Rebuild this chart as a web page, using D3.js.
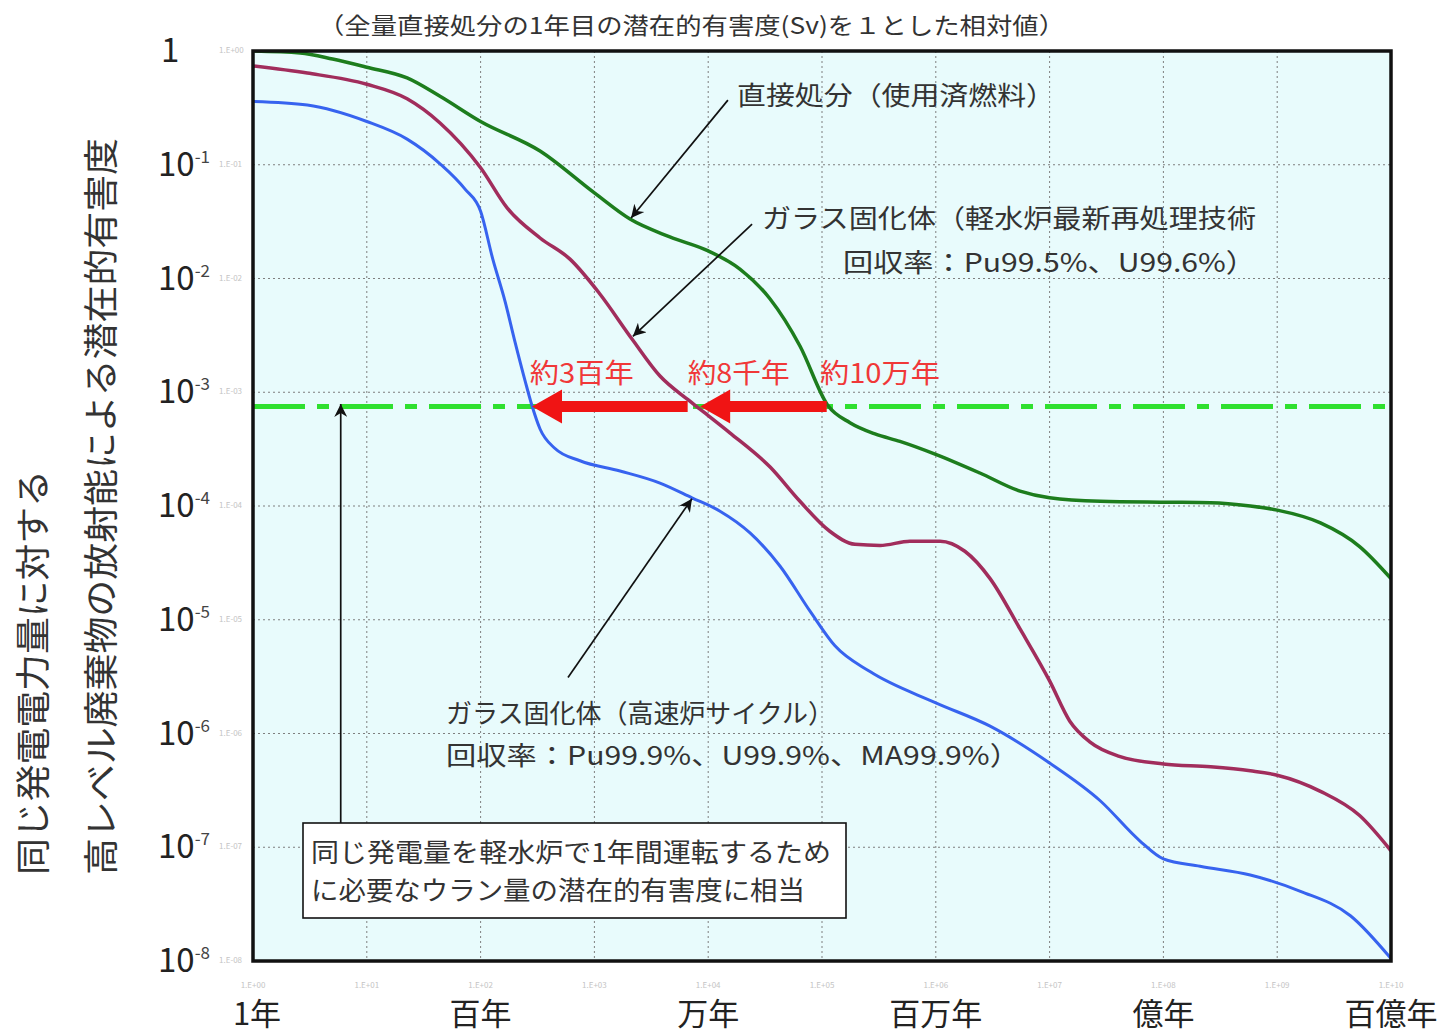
<!DOCTYPE html>
<html>
<head>
<meta charset="utf-8">
<script src="https://cdn.jsdelivr.net/npm/d3@7"></script>
<style>
  body { margin: 0; background: #ffffff; }
  svg { display: block; }
  text { font-family: "Noto Sans CJK JP", "Noto Sans", sans-serif; }
</style>
</head>
<body>
<svg id="chart" width="1444" height="1033"></svg>
<script>
// ---- data: relative potential hazard vs. elapsed years ----
// direct disposal (spent fuel)
const directYears  = [1, 2.6, 5, 10, 22.6, 44, 100, 333, 1000, 2055, 4600, 1e4, 1.9e4, 3.5e4, 6.4e4, 1.13e5, 1.76e5, 2.92e5, 4.84e5, 9.84e5, 2.44e6, 5.5e6, 1e7, 2.8e7, 1e8, 2.6e8, 5.8e8, 1e9, 2.4e9, 5.3e9, 1e10];
const directValues = [1.0, 0.96, 0.85, 0.72, 0.58, 0.40, 0.24, 0.132, 0.0565, 0.0333, 0.0232, 0.0175, 0.0121, 0.0066, 0.00255, 7.6e-4, 5.4e-4, 4.3e-4, 3.7e-4, 2.86e-4, 1.95e-4, 1.35e-4, 1.18e-4, 1.1e-4, 1.08e-4, 1.07e-4, 1.0e-4, 9.2e-5, 7.1e-5, 4.4e-5, 2.3e-5];

// vitrified waste, light-water reactor reprocessing
const lwrYears  = [1, 3, 10, 22.6, 44, 100, 171, 333, 610, 1100, 2140, 3770, 6640, 8470, 1.55e4, 3.5e4, 6.4e4, 1.17e5, 1.95e5, 3.24e5, 5.93e5, 1.09e6, 1.8e6, 3e6, 5.5e6, 1e7, 1.5e7, 2.27e7, 4.1e7, 1e8, 2.6e8, 5.8e8, 1e9, 2.4e9, 5.3e9, 1e10];
const lwrValues = [0.74, 0.64, 0.51, 0.38, 0.233, 0.094, 0.0417, 0.0227, 0.0148, 0.00746, 0.00294, 0.00139, 8.6e-4, 7.1e-4, 4.4e-4, 2.2e-4, 1.1e-4, 6.0e-5, 4.6e-5, 4.5e-5, 4.9e-5, 4.9e-5, 4.0e-5, 2.3e-5, 8.3e-6, 2.9e-6, 1.29e-6, 8.4e-7, 6.3e-7, 5.4e-7, 5.1e-7, 4.7e-7, 4.3e-7, 3.1e-7, 1.9e-7, 9.3e-8];

// vitrified waste, fast reactor cycle
const fbrYears  = [1, 3, 10, 22.6, 44, 73, 100, 128, 164, 200, 246, 283, 333, 451, 747, 1680, 3770, 7200, 1.27e4, 2.33e4, 4.27e4, 7.85e4, 1.3e5, 2.64e5, 1e6, 3e6, 1e7, 2.8e7, 6.2e7, 1e8, 2.1e8, 5.8e8, 1.6e9, 4.4e9, 1e10];
const fbrValues = [0.36, 0.335, 0.24, 0.168, 0.102, 0.061, 0.039, 0.0148, 0.0063, 0.0028, 0.00126, 7.6e-4, 4.75e-4, 3.2e-4, 2.5e-4, 2.03e-4, 1.59e-4, 1.18e-4, 9.0e-5, 5.8e-5, 2.97e-5, 1.19e-5, 5.9e-6, 3.5e-6, 1.86e-6, 1.16e-6, 5.5e-7, 2.55e-7, 1.14e-7, 7.9e-8, 6.8e-8, 5.7e-8, 4.1e-8, 2.5e-8, 1.05e-8];

// natural uranium reference level (1 year of LWR operation)
const uraniumLevel = 7.5e-4;

// reduction arrows [from year, to year] and their labels
const arrowSpans  = [[1.1e5, 8.5e3], [6.6e3, 2.83e2]];
const arrowLabelYears = [2.7e2, 6.6e3, 9.6e4];
const arrowLabels = ["約3百年", "約8千年", "約10万年"];
const arrowLabelWidths = [104, 102, 120];

// axis ticks
const xTickExps   = [0, 1, 2, 3, 4, 5, 6, 7, 8, 9, 10];
const xMajorExps  = [0, 2, 4, 6, 8, 10];
const xMajorNames = ["1年", "百年", "万年", "百万年", "億年", "百億年"];
const yTickExps   = [0, -1, -2, -3, -4, -5, -6, -7, -8];

// ---- layout ----
const svg = d3.select("#chart");
const plotLeft = 253, plotRight = 1391, plotTop = 51, plotBottom = 961;

const x = d3.scaleLog().domain([1, 1e10]).range([plotLeft, plotRight]);
const y = d3.scaleLog().domain([1e-8, 1]).range([plotBottom, plotTop]);

const defs = svg.append("defs");
defs.append("clipPath").attr("id", "plotClip")
  .append("rect").attr("x", plotLeft).attr("y", plotTop)
  .attr("width", plotRight - plotLeft).attr("height", plotBottom - plotTop);

// plot background
svg.append("rect").attr("x", plotLeft).attr("y", plotTop)
  .attr("width", plotRight - plotLeft).attr("height", plotBottom - plotTop)
  .attr("fill", "#e8fbfc");

// grid
const grid = svg.append("g").attr("stroke", "#7f7f7f").attr("stroke-width", 1)
  .attr("stroke-dasharray", "2,3");
grid.selectAll("line.v").data(xTickExps.slice(1, -1)).join("line").attr("class", "v")
  .attr("x1", d => x(Math.pow(10, d))).attr("x2", d => x(Math.pow(10, d)))
  .attr("y1", plotTop).attr("y2", plotBottom);
grid.selectAll("line.h").data(yTickExps.slice(1, -1)).join("line").attr("class", "h")
  .attr("y1", d => y(Math.pow(10, d))).attr("y2", d => y(Math.pow(10, d)))
  .attr("x1", plotLeft).attr("x2", plotRight);

// uranium reference level (dash-dot)
svg.append("line")
  .attr("x1", plotLeft).attr("x2", plotRight)
  .attr("y1", y(uraniumLevel)).attr("y2", y(uraniumLevel))
  .attr("stroke", "#2fe02f").attr("stroke-width", 5)
  .attr("stroke-dasharray", "52,12,12,12");

// curves
const line = d3.line().x(d => x(d[0])).y(d => y(d[1])).curve(d3.curveMonotoneX);
const series = [
  { years: directYears, values: directValues, color: "#1d7d1d", width: 3.5 },
  { years: lwrYears,    values: lwrValues,    color: "#a12d5c", width: 3.5 },
  { years: fbrYears,    values: fbrValues,    color: "#3763ef", width: 3 }
];
const curves = svg.append("g").attr("clip-path", "url(#plotClip)");
series.forEach(s => {
  curves.append("path")
    .datum(d3.zip(s.years, s.values))
    .attr("d", line)
    .attr("fill", "none")
    .attr("stroke", s.color)
    .attr("stroke-width", s.width)
    .attr("stroke-linejoin", "round");
});

// red reduction arrows
const ay = y(uraniumLevel);
const shaftH = 11, headH = 34, headL = 30;
arrowSpans.forEach(([from, to]) => {
  const x0 = x(from), x1 = x(to);
  const pts = [
    [x0, ay - shaftH / 2], [x1 + headL, ay - shaftH / 2], [x1 + headL, ay - headH / 2],
    [x1, ay], [x1 + headL, ay + headH / 2], [x1 + headL, ay + shaftH / 2], [x0, ay + shaftH / 2]
  ];
  svg.append("polygon").attr("points", pts.map(p => p.join(",")).join(" "))
    .attr("fill", "#f01414");
});
svg.selectAll("text.red").data(arrowLabels).join("text").attr("class", "red")
  .attr("x", (d, i) => x(arrowLabelYears[i]))
  .attr("y", ay - 23)
  .attr("font-size", 27)
  .attr("fill", "#f03838")
  .attr("textLength", (d, i) => arrowLabelWidths[i])
  .attr("lengthAdjust", "spacingAndGlyphs")
  .text(d => d);

// plot frame
svg.append("rect").attr("x", plotLeft).attr("y", plotTop)
  .attr("width", plotRight - plotLeft).attr("height", plotBottom - plotTop)
  .attr("fill", "none").attr("stroke", "#111").attr("stroke-width", 3.5);

// y tick labels
const yLab = svg.append("g").attr("fill", "#222");
yTickExps.forEach(e => {
  const ty = y(Math.pow(10, e));
  if (e === 0) {
    yLab.append("text").attr("x", 161).attr("y", ty + 11).attr("font-size", 33).text("1");
  } else {
    const t = yLab.append("text").attr("x", 158).attr("y", ty + 11).attr("font-size", 33);
    t.append("tspan").text("10");
    t.append("tspan").attr("font-size", 17).attr("dy", -13).attr("fill", "#444").text(String(e));
  }
  svg.append("text").attr("x", 219).attr("y", ty + 2).attr("font-size", 8)
    .attr("fill", "#c4c4c4")
    .text("1.E" + (e < 0 ? "-" : "+") + String(Math.abs(e)).padStart(2, "0"));
});

// x ghost tick labels and major labels
svg.selectAll("text.xg").data(xTickExps).join("text").attr("class", "xg")
  .attr("x", d => x(Math.pow(10, d))).attr("y", 988)
  .attr("text-anchor", "middle").attr("font-size", 8).attr("fill", "#c4c4c4")
  .text(d => "1.E+" + String(d).padStart(2, "0"));
svg.selectAll("text.xm").data(xMajorExps).join("text").attr("class", "xm")
  .attr("x", d => x(Math.pow(10, d)) + (d === 0 ? 4 : 0)).attr("y", 1025)
  .attr("text-anchor", "middle").attr("font-size", 31).attr("fill", "#222")
  .text((d, i) => xMajorNames[i]);

// title
svg.append("text").attr("x", 318).attr("y", 34).attr("font-size", 23)
  .attr("fill", "#333").attr("textLength", 747).attr("lengthAdjust", "spacingAndGlyphs")
  .text("（全量直接処分の1年目の潜在的有害度(Sv)を１とした相対値）");

// y axis title (two vertical lines)
svg.append("text").attr("transform", "translate(46,875) rotate(-90)")
  .attr("font-size", 35).attr("fill", "#333")
  .attr("textLength", 405).attr("lengthAdjust", "spacingAndGlyphs")
  .text("同じ発電電力量に対する");
svg.append("text").attr("transform", "translate(114,875) rotate(-90)")
  .attr("font-size", 35).attr("fill", "#333")
  .attr("textLength", 737).attr("lengthAdjust", "spacingAndGlyphs")
  .text("高レベル廃棄物の放射能による潜在的有害度");

// annotation pointers (data coordinates)
const pointers = [
  { from: [1.49e4, 0.37],   to: [2100, 0.034] },
  { from: [2.43e4, 0.030],  to: [2180, 0.0031] },
  { from: [586, 3.1e-6],    to: [7200, 1.16e-4] },
  { from: [5.9, 1.63e-7],   to: [5.9, 7.9e-4] }
];
defs.append("marker").attr("id", "headBig")
  .attr("viewBox", "0 0 10 10").attr("refX", 10).attr("refY", 5)
  .attr("markerWidth", 18).attr("markerHeight", 13).attr("markerUnits", "userSpaceOnUse")
  .attr("orient", "auto")
  .append("path").attr("d", "M0,0 L10,5 L0,10 L3,5 Z").attr("fill", "#111");
pointers.forEach(p => {
  svg.append("line")
    .attr("x1", x(p.from[0])).attr("y1", y(p.from[1]))
    .attr("x2", x(p.to[0])).attr("y2", y(p.to[1]))
    .attr("stroke", "#111").attr("stroke-width", 1.7)
    .attr("marker-end", "url(#headBig)");
});

// annotation texts
const ann = svg.append("g").attr("fill", "#333").attr("font-size", 26);
ann.append("text").attr("x", 737).attr("y", 105).attr("textLength", 318)
  .attr("lengthAdjust", "spacingAndGlyphs").text("直接処分（使用済燃料）");
ann.append("text").attr("x", 762).attr("y", 228).attr("textLength", 494)
  .attr("lengthAdjust", "spacingAndGlyphs").text("ガラス固化体（軽水炉最新再処理技術");
ann.append("text").attr("x", 843).attr("y", 272).attr("textLength", 413)
  .attr("lengthAdjust", "spacingAndGlyphs").text("回収率：Pu99.5%、U99.6%）");
ann.append("text").attr("x", 446).attr("y", 723).attr("textLength", 388)
  .attr("lengthAdjust", "spacingAndGlyphs").text("ガラス固化体（高速炉サイクル）");
ann.append("text").attr("x", 446).attr("y", 765).attr("textLength", 574)
  .attr("lengthAdjust", "spacingAndGlyphs").text("回収率：Pu99.9%、U99.9%、MA99.9%）");

// uranium note box
svg.append("rect").attr("x", 303).attr("y", 823).attr("width", 543).attr("height", 95)
  .attr("fill", "#ffffff").attr("stroke", "#111").attr("stroke-width", 1.6);
const note = svg.append("g").attr("fill", "#333").attr("font-size", 26);
note.append("text").attr("x", 311).attr("y", 862).attr("textLength", 520)
  .attr("lengthAdjust", "spacingAndGlyphs").text("同じ発電量を軽水炉で1年間運転するため");
note.append("text").attr("x", 311).attr("y", 900).attr("textLength", 494)
  .attr("lengthAdjust", "spacingAndGlyphs").text("に必要なウラン量の潜在的有害度に相当");
</script>
</body>
</html>
